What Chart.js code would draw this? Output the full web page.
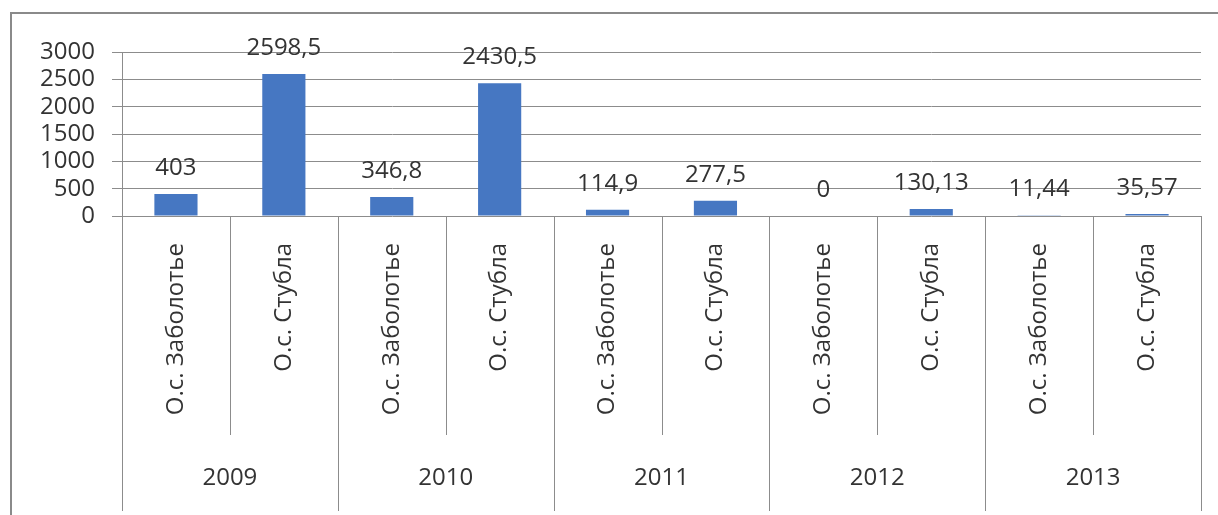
<!DOCTYPE html>
<html>
<head>
<meta charset="utf-8">
<script src="https://cdn.jsdelivr.net/npm/chart.js@4/dist/chart.umd.min.js"></script>
<style>
  html, body { margin: 0; padding: 0; background: #ffffff; }
  #wrap { position: relative; width: 1218px; height: 515px; }
</style>
</head>
<body>
<div id="wrap"><canvas id="c" width="1218" height="515"></canvas></div>
<script>
const years = ['2009', '2010', '2011', '2012', '2013'];
const sites = ['О.с. Заболотье', 'О.с. Стубла'];
const values = [403, 2598.5, 346.8, 2430.5, 114.9, 277.5, 0, 130.13, 11.44, 35.57];
const valueLabels = ['403', '2598,5', '346,8', '2430,5', '114,9', '277,5', '0', '130,13', '11,44', '35,57'];
const yTicks = [0, 500, 1000, 1500, 2000, 2500, 3000];

const categories = [];
years.forEach(() => sites.forEach(s => categories.push(s)));

const FONT = '"Open Sans", "DejaVu Sans", sans-serif';
const TEXT = '#333333';
const LINE = '#8c8c8c';

const decor = {
  id: 'decor',
  beforeDraw(chart) {
    const ctx = chart.ctx;
    ctx.save();
    ctx.strokeStyle = '#8a8a8a';
    ctx.lineWidth = 2;
    ctx.beginPath();
    ctx.moveTo(11, 520);
    ctx.lineTo(11, 13);
    ctx.lineTo(1230, 13);
    ctx.stroke();
    ctx.restore();
  },
  afterDraw(chart) {
    const ctx = chart.ctx;
    const area = chart.chartArea;
    const n = categories.length;
    const w = (area.right - area.left) / n;
    ctx.save();
    ctx.strokeStyle = LINE;
    ctx.lineWidth = 1;
    for (let i = 0; i <= n; i++) {
      const x = Math.round(area.left + i * w) + 0.5;
      const bottom = (i % sites.length === 0) ? 511 : 435;
      ctx.beginPath();
      ctx.moveTo(x, area.bottom);
      ctx.lineTo(x, bottom);
      ctx.stroke();
    }
    ctx.fillStyle = TEXT;
    ctx.font = '24px ' + FONT;
    ctx.textAlign = 'center';
    ctx.textBaseline = 'middle';
    years.forEach((y, g) => {
      const cx = area.left + (g * sites.length + sites.length / 2) * w;
      ctx.fillText(y, cx, 478);
    });
    const meta = chart.getDatasetMeta(0);
    ctx.textBaseline = 'alphabetic';
    meta.data.forEach((bar, i) => {
      ctx.fillText(valueLabels[i], bar.x, bar.y - 19);
    });
    ctx.restore();
  }
};

new Chart(document.getElementById('c'), {
  type: 'bar',
  data: {
    labels: categories,
    datasets: [{
      data: values,
      backgroundColor: '#4677c2',
      borderWidth: 0,
      barPercentage: 0.4,
      categoryPercentage: 1.0
    }]
  },
  options: {
    responsive: false,
    animation: false,
    layout: { padding: { left: 0, top: 52, right: 17, bottom: 0 } },
    plugins: { legend: { display: false }, tooltip: { enabled: false } },
    scales: {
      x: {
        grid: { display: false, drawTicks: false },
        border: { display: false },
        ticks: {
          autoSkip: false, maxRotation: 90, minRotation: 90,
          padding: 27, color: TEXT,
          font: { family: FONT, size: 24 }
        },
        afterFit(s) { s.height = 299; }
      },
      y: {
        min: 0, max: 3000,
        afterBuildTicks(s) { s.ticks = yTicks.map(v => ({ value: v })); },
        grid: { color: LINE, tickLength: 10, lineWidth: 1, tickColor: LINE },
        border: { display: true, color: LINE },
        ticks: {
          autoSkip: false,
          padding: 17, color: TEXT,
          font: { family: FONT, size: 24 },
          callback: (v) => String(v)
        },
        afterFit(s) { s.width = 122; }
      }
    }
  },
  plugins: [decor]
});
</script>
</body>
</html>
